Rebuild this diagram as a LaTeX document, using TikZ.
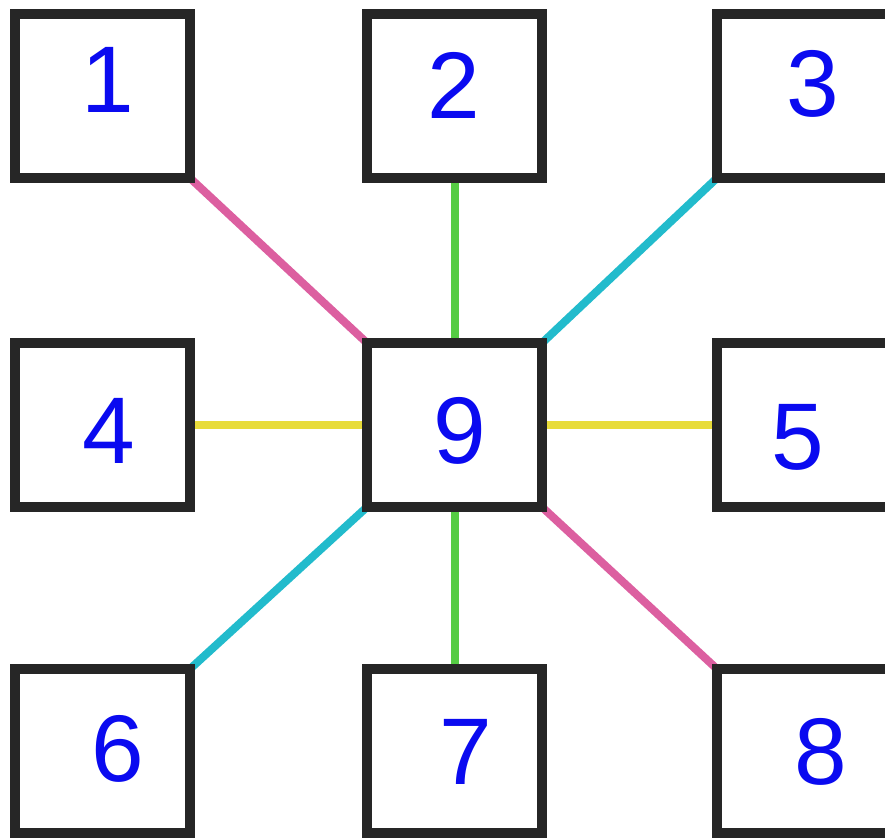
\documentclass[tikz,border=0pt]{standalone}
\usepackage{fontspec}
\setmainfont{Liberation Sans}
\usetikzlibrary{backgrounds}
\definecolor{boxline}{HTML}{262626}
\definecolor{pinkline}{HTML}{DC5FA0}
\definecolor{greenline}{HTML}{55CC44}
\definecolor{cyanline}{HTML}{22BBCC}
\definecolor{yellowline}{HTML}{E8DC3A}
\definecolor{digit}{HTML}{0A0AF0}
\tikzset{
  cell/.style={draw=boxline, fill=white, line width=7.5pt, minimum width=131.25pt, minimum height=123pt, inner sep=0pt, outer sep=0pt},
  num/.style={text=digit, font=\fontsize{71}{71}\selectfont, inner sep=0pt},
  link/.style={line width=6pt}
}
\begin{document}
\begin{tikzpicture}[x=0.75pt, y=-0.75pt]
\useasboundingbox (0,0) rectangle (885,839);
\node[cell] (b1) at (102.5,96) {};
\node[cell] (b2) at (454.5,96) {};
\node[cell] (b3) at (804.5,96) {};
\node[cell] (b4) at (102.5,425) {};
\node[cell] (b9) at (454.5,425) {};
\node[cell] (b5) at (804.5,425) {};
\node[cell] (b6) at (102.5,751) {};
\node[cell] (b7) at (454.5,751) {};
\node[cell] (b8) at (804.5,751) {};
\begin{scope}[on background layer]
\fill[white] (0,0) rectangle (885,839);
\draw[link, pinkline] (b1.south east) -- (b9.north west);
\draw[link, greenline] (b2.south) -- (b9.north);
\draw[link, cyanline] (b3.south west) -- (b9.north east);
\draw[link, yellowline] (b4.east) -- (b9.west);
\draw[link, yellowline] (b9.east) -- (b5.west);
\draw[link, cyanline] (b9.south west) -- (b6.north east);
\draw[link, greenline] (b9.south) -- (b7.north);
\draw[link, pinkline] (b9.south east) -- (b8.north west);
\end{scope}
\node[num] (t1) at (108,80) {1};
\node[num] (t2) at (454,85) {2};
\node[num] (t3) at (813,84) {3};
\node[num] (t4) at (109,431) {4};
\node[num] (t9) at (460,431) {9};
\node[num] (t5) at (798,437) {5};
\node[num] (t6) at (118,749) {6};
\node[num] (t7) at (466,752) {7};
\node[num] (t8) at (821,752) {8};
\end{tikzpicture}
\end{document}
